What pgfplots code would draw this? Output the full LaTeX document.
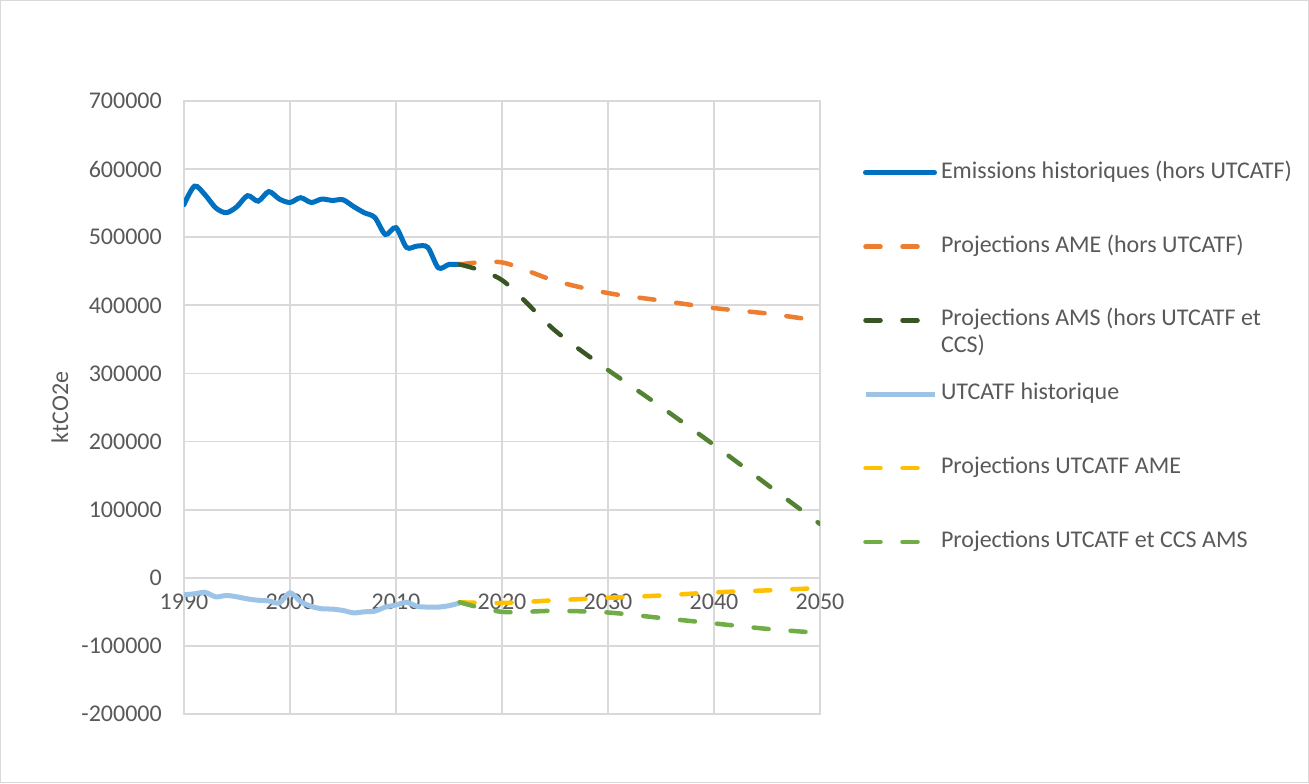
\documentclass[border=0pt]{standalone}
\usepackage{pgfplots}
\pgfplotsset{compat=1.18}
\usepackage{fontspec}
\setmainfont{Carlito}
\definecolor{txt}{HTML}{595959}
\definecolor{gridc}{HTML}{D9D9D9}
\definecolor{cblue}{HTML}{0070C0}
\definecolor{corange}{HTML}{ED7D31}
\definecolor{cdkgreen}{HTML}{375623}
\definecolor{cmdgreen}{HTML}{548235}
\definecolor{cltblue}{HTML}{9DC3E6}
\definecolor{cyellow}{HTML}{FFC000}
\definecolor{cgreen}{HTML}{70AD47}
\newcommand{\cfont}{\fontsize{24bp}{27bp}\selectfont}
\begin{document}
\begin{tikzpicture}[x=1bp,y=1bp]
\path[use as bounding box] (0,0) rectangle (1309,783);
\draw[color=gridc, line width=1bp] (0.5,0.5) rectangle (1308.5,782.5);
\begin{axis}[
  at={(184bp,69bp)}, anchor=south west,
  width=636bp, height=613bp, scale only axis,
  xmin=1990, xmax=2050, ymin=-200000, ymax=700000,
  xtick={1990,2000,...,2050}, ytick={-200000,-100000,...,700000},
  scaled y ticks=false, scaled x ticks=false,
  /pgf/number format/assume math mode=true,
  /pgf/number format/set thousands separator={},
  /pgf/number format/fixed,
  grid=major, major grid style={color=gridc, line width=1.8bp},
  axis line style={color=gridc, line width=1.8bp},
  tick style={draw=none},
  tick label style={font=\cfont, text=txt},
  yticklabel style={anchor=east, inner sep=0pt, xshift=-22bp},
  xticklabel style={anchor=north, inner sep=0pt, yshift=120bp},
  ylabel={ktCO2e},
  every axis y label/.style={at={(rel axis cs:-0.195,0.5)}, rotate=90, anchor=center, font=\cfont, text=txt},
  legend image code/.code={\draw[#1] (0bp,0bp) -- (69bp,0bp);},
  legend cell align=left,
  legend style={at={(rel axis cs:1.0676,0.900)}, anchor=north west, draw=none, fill=none,
    inner sep=0pt, outer sep=0pt, row sep=52.8bp, column sep=4bp, font=\cfont, text=txt,
    nodes={inner sep=0pt, text height=16bp, text depth=5bp}},
  every axis plot/.append style={smooth, tension=0.5, line cap=round},
]
\addplot[color=cblue, line width=5bp] coordinates {
(1990,548000) (1991,575000) (1992,562000) (1993,543000) (1994,536000)
(1995,545000) (1996,561000) (1997,553000) (1998,567000) (1999,556000)
(2000,551000) (2001,558000) (2002,551000) (2003,556000) (2004,554000)
(2005,555000) (2006,545000) (2007,536000) (2008,529000) (2009,504000)
(2010,514000) (2011,485000) (2012,487000) (2013,485000) (2014,455000)
(2015,460000) (2016,460000)};
\addlegendentry{Emissions historiques (hors UTCATF)}
\addplot[color=corange, line width=4.5bp, dash pattern=on 15bp off 22bp] coordinates {
(2016,460000) (2020,463000) (2025,436000) (2030,418000) (2035,407000)
(2040,396000) (2045,388000) (2050,377000)};
\addlegendentry{Projections AME (hors UTCATF)}
\addplot[color=cdkgreen, line width=4.5bp, dash pattern=on 15bp off 22bp] coordinates {
(2016,460000) (2020,437000) (2025,363000) (2030,305000)};
\addlegendentry{\begin{tabular}[t]{@{}l@{}}Projections AMS (hors UTCATF et\\CCS)\end{tabular}}
\addplot[color=cmdgreen, line width=4.5bp, dash pattern=on 15bp off 22bp, forget plot] coordinates {
(2030,305000) (2035,251000) (2040,195000) (2045,137000) (2050,79000)};
\addplot[color=cltblue, line width=5bp, line cap=butt] coordinates {
(1990,-25000) (1991,-23500) (1992,-21500) (1993,-28000) (1994,-26000)
(1995,-28000) (1996,-31000) (1997,-33000) (1998,-34000) (1999,-37000)
(2000,-22000) (2001,-35000) (2002,-42000) (2003,-45500) (2004,-46000)
(2005,-48000) (2006,-51500) (2007,-50000) (2008,-49000) (2009,-43000)
(2010,-40000) (2011,-36000) (2012,-42000) (2013,-43000) (2014,-43000)
(2015,-41000) (2016,-37000)};
\addlegendentry{UTCATF historique}
\addplot[color=cyellow, line width=4.5bp, dash pattern=on 15bp off 22bp] coordinates {
(2016,-36000) (2020,-37000) (2025,-33000) (2030,-29500) (2035,-26000)
(2040,-21500) (2045,-18500) (2050,-15000)};
\addlegendentry{Projections UTCATF AME}
\addplot[color=cgreen, line width=4.5bp, dash pattern=on 15bp off 22bp] coordinates {
(2016,-36000) (2020,-50000) (2025,-48500) (2030,-51000) (2035,-59000)
(2040,-67000) (2045,-75000) (2050,-81000)};
\addlegendentry{Projections UTCATF et CCS AMS}
\end{axis}
\end{tikzpicture}
\end{document}
